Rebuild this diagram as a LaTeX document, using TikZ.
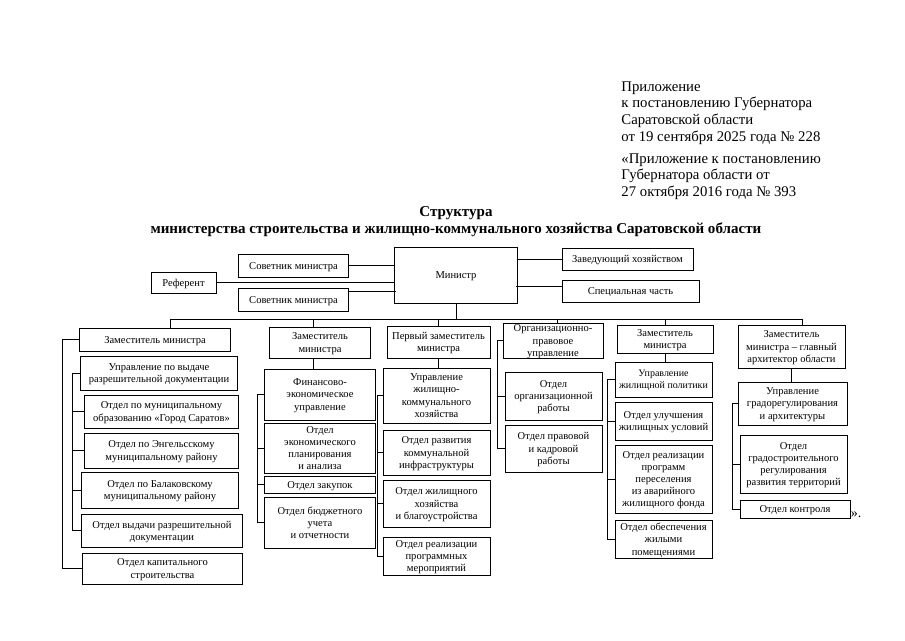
\documentclass[tikz,border=0pt]{standalone}
\usepackage{fontspec}
\setmainfont{Liberation Serif}
\usetikzlibrary{calc}

\begin{document}
\begin{tikzpicture}[x=0.025cm, y=-0.025cm, line width=.6pt,
    box/.style={draw, line width=.7pt, align=center, inner xsep=1pt, inner ysep=.5pt,
      text depth=0pt, font=\fontsize{7.5}{8.7}\selectfont}]
  \useasboundingbox (0,0) rectangle (905,640);

  \node[anchor=north west, inner sep=0, align=left, font=\fontsize{10.5}{12}\selectfont]
    (app) at (621,81) {Приложение\\к постановлению Губернатора\\Саратовской области\\от 19 сентября 2025 года №~228};
  \node[anchor=north west, inner sep=0, align=left, font=\fontsize{10.5}{12}\selectfont]
    (old) at (621,153) {«Приложение к постановлению\\Губернатора области от\\27 октября 2016 года №~393};
  \node[align=center, font=\fontsize{10.7}{11.6}\selectfont\bfseries]
    (title) at (456,221.5) {Структура\\министерства строительства и жилищно-коммунального хозяйства Саратовской области};

  \node[box, minimum width=3.05cm, minimum height=1.4cm] (min) at (456,275) {Министр};
  \node[box, minimum width=2.725cm, minimum height=.575cm] (sov1) at (293.5,265.5) {Советник министра};
  \node[box, minimum width=2.725cm, minimum height=.575cm] (sov2) at (293.5,299.5) {Советник министра};
  \node[box, minimum width=1.625cm, minimum height=.525cm] (ref) at (183.5,282.5) {Референт};
  \node[box, minimum width=3.275cm, minimum height=.55cm] (zav) at (627.5,259) {Заведующий хозяйством};
  \node[box, minimum width=3.425cm, minimum height=.55cm] (spec) at (630.5,291) {Специальная часть};

  \draw (sov1.east) -- (sov1.east -| min.west);
  \draw (ref.east) -- (ref.east -| min.west);
  \draw ([yshift=.19cm]sov2.east) -- ++(47,0);
  \draw (zav.west) -- (zav.west -| min.east);
  \draw ([yshift=.125cm]spec.west) -- ++(-45,0);

  % first column
  \node[box, minimum width=3.75cm, minimum height=.575cm] (z1) at (155,339.5) {Заместитель министра};
  \node[box, minimum width=3.9cm, minimum height=.85cm] (u1) at (159,373) {Управление по выдаче\\разрешительной документации};
  \node[box, minimum width=3.825cm, minimum height=.825cm] (o1a) at (161.5,411.5) {Отдел по муниципальному\\образованию «Город Саратов»};
  \node[box, minimum width=3.825cm, minimum height=.875cm] (o1b) at (161.5,450.5) {Отдел по Энгельсскому\\муниципальному району};
  \node[box, minimum width=3.9cm, minimum height=.9cm] (o1c) at (160,490) {Отдел по Балаковскому\\муниципальному району};
  \node[box, minimum width=4cm, minimum height=.825cm] (o1d) at (162,530.5) {Отдел выдачи разрешительной\\документации};
  \node[box, minimum width=3.975cm, minimum height=.775cm] (o1e) at (162.5,568.5) {Отдел капитального\\строительства};

  % second column
  \node[box, minimum width=2.5cm, minimum height=.775cm] (z2) at (320,342.5) {Заместитель\\министра};
  \node[box, minimum width=2.75cm, minimum height=1.275cm] (u2) at (320,394.5) {Финансово-\\экономическое\\управление};
  \node[box, minimum width=2.75cm, minimum height=1.25cm] (o2a) at (320,448) {Отдел\\экономического\\планирования\\и анализа};
  \node[box, minimum width=2.75cm, minimum height=.425cm] (o2b) at (320,484.5) {Отдел закупок};
  \node[box, minimum width=2.75cm, minimum height=1.275cm] (o2c) at (320,522.5) {Отдел бюджетного\\учета\\и отчетности};

  % third column
  \node[box, minimum width=2.575cm, minimum height=.8cm] (z3) at (438.5,342) {Первый заместитель\\министра};
  \node[box, minimum width=2.675cm, minimum height=1.375cm] (u3) at (436.5,395.5) {Управление\\жилищно-\\коммунального\\хозяйства};
  \node[box, minimum width=2.675cm, minimum height=1.125cm] (o3a) at (436.5,452.5) {Отдел развития\\коммунальной\\инфраструктуры};
  \node[box, minimum width=2.675cm, minimum height=1.175cm] (o3b) at (436.5,503.5) {Отдел жилищного\\хозяйства\\и благоустройства};
  \node[box, minimum width=2.675cm, minimum height=.95cm] (o3c) at (436.5,556) {Отдел реализации\\программных\\мероприятий};

  % fourth column
  \node[box, minimum width=2.5cm, minimum height=.875cm] (z4) at (553,340.5) {Организационно-\\правовое\\управление};
  \node[box, minimum width=2.425cm, minimum height=1.2cm] (o4a) at (553.5,396) {Отдел\\организационной\\работы};
  \node[box, minimum width=2.425cm, minimum height=1.175cm] (o4b) at (553.5,448.5) {Отдел правовой\\и кадровой\\работы};

  % fifth column
  \node[box, minimum width=2.4cm, minimum height=.7cm] (z5) at (665,339) {Заместитель\\министра};
  \node[box, minimum width=2.425cm, minimum height=.875cm, font=\fontsize{7.1}{8.7}\selectfont] (u5) at (663.5,379.5) {Управление\\жилищной политики};
  \node[box, minimum width=2.425cm, minimum height=.95cm] (o5a) at (663.5,421) {Отдел улучшения\\жилищных условий};
  \node[box, minimum width=2.425cm, minimum height=1.7cm] (o5b) at (663.5,479) {Отдел реализации\\программ\\переселения\\из аварийного\\жилищного фонда};
  \node[box, minimum width=2.425cm, minimum height=.95cm] (o5c) at (663.5,539) {Отдел обеспечения\\жилыми\\помещениями};

  % sixth column
  \node[box, minimum width=2.675cm, minimum height=1.075cm] (z6) at (791.5,346.5) {Заместитель\\министра -- главный\\архитектор области};
  \node[box, minimum width=2.725cm, minimum height=1.075cm] (u6) at (792.5,403.5) {Управление\\градорегулирования\\и архитектуры};
  \node[box, minimum width=2.675cm, minimum height=1.45cm] (o6a) at (793.5,464) {Отдел\\градостроительного\\регулирования\\развития территорий};
  \node[box, minimum width=2.75cm, minimum height=.45cm] (o6b) at (795,509) {Отдел контроля};
  \node[anchor=west, inner sep=0, font=\fontsize{10}{12}\selectfont] (fin) at ([xshift=0cm,yshift=-.15cm]o6b.east) {».};

  % bus
  \coordinate (bus) at (456,319);
  \draw (min.south) -- (bus);
  \draw ([xshift=.375cm]z1.north) |- (bus);
  \draw ([xshift=-.175cm]z2.north) |- (bus);
  \draw (z3.north) |- (bus);
  \draw ([xshift=.1cm]z4.north) |- (bus);
  \draw (z5.north) |- (bus);
  \draw ([xshift=.2625cm]z6.north) |- (bus);

  \draw ([xshift=-.175cm]z2.south) -- ([xshift=-.175cm]z2.south |- u2.north);
  \draw (z3.south) -- (z3.south |- u3.north);
  \draw (z5.south) -- (z5.south |- u5.north);
  \draw (z6.south) -- (z6.south |- u6.north);

  % brackets
  \draw (z1.west) -- ++(-17,0) |- (o1e.west);
  \draw (u1.west) -- ++(-8,0) coordinate (k1) |- (o1d.west);
  \draw (o1a.west) -- (o1a.west -| k1);
  \draw (o1b.west) -- (o1b.west -| k1);
  \draw (o1c.west) -- (o1c.west -| k1);

  \draw (u2.west) -- ++(-7,0) coordinate (k2) |- (o2c.west);
  \draw (o2a.west) -- (o2a.west -| k2);
  \draw (o2b.west) -- (o2b.west -| k2);

  \draw (u3.west) -- ++(-5,0) coordinate (k3) |- (o3c.west);
  \draw (o3a.west) -- (o3a.west -| k3);
  \draw (o3b.west) -- (o3b.west -| k3);

  \draw (z4.west) -- ++(-5,0) |- (o4b.west);
  \draw (o4a.west) -- ++(-7,0);

  \draw (u5.west) -- ++(-7,0) coordinate (k5) |- (o5c.west);
  \draw (o5a.west) -- (o5a.west -| k5);
  \draw (o5b.west) -- (o5b.west -| k5);

  \draw (u6.west) -- ++(-5,0) |- (o6b.west);
  \draw (o6a.west) -- ++(-7,0);
\end{tikzpicture}
\end{document}
